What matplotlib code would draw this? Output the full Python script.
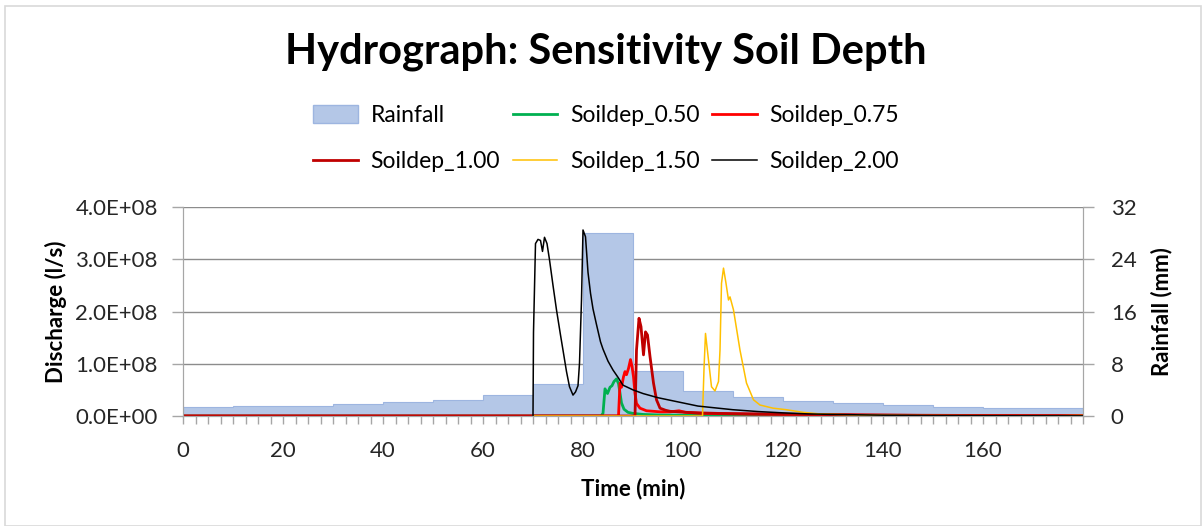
import matplotlib
matplotlib.use("Agg")
import matplotlib.pyplot as plt
import numpy as np
from matplotlib.patches import Patch
from matplotlib.ticker import FuncFormatter, MultipleLocator, FixedLocator

plt.rcParams["font.family"] = ["Lato", "DejaVu Sans"]

# rainfall per 10-minute block (mm), edges 0..180 min
rain_edges = [0, 10, 20, 30, 40, 50, 60, 70, 80, 90, 100, 110, 120, 130, 140, 150, 160, 170, 180]
rain_mm = [1.35, 1.6, 1.6, 1.9, 2.15, 2.45, 3.2, 4.85, 28.0, 6.95,
           3.9, 2.85, 2.3, 1.95, 1.7, 1.45, 1.25, 1.25]

# discharge series, values in 1e8 l/s
t_050 = [0, 83.6, 84.0, 84.4, 84.9, 85.4, 85.8, 86.2, 86.7, 87.1, 87.4, 87.7, 88.2, 89, 90, 92, 95, 100, 110, 120, 130, 180]
q_050 = [0, 0, 0.05, 0.52, 0.43, 0.55, 0.58, 0.66, 0.71, 0.62, 0.44, 0.25, 0.13, 0.07, 0.05, 0.03, 0.02, 0.015, 0.01, 0.005, 0, 0]

t_075 = [0, 87.1, 87.4, 87.7, 88.1, 88.4, 88.7, 89.1, 89.5, 89.8, 90.1, 90.4, 90.7, 91.4, 92.7, 95.4, 97.5, 99.2, 100.5, 104, 110, 120, 135, 150, 180]
q_075 = [0, 0, 0.63, 0.55, 0.75, 0.85, 0.79, 0.91, 1.08, 0.95, 0.75, 0.43, 0.24, 0.15, 0.10, 0.08, 0.08, 0.10, 0.07, 0.05, 0.04, 0.03, 0.02, 0.01, 0.005]

t_100 = [0, 90.4, 90.7, 91.2, 91.6, 92.1, 92.5, 92.9, 93.4, 94.1, 94.7, 95.4, 96.5, 97.4, 99, 100.7, 103, 107, 114, 120, 127, 135, 145, 160, 180]
q_100 = [0, 0, 1.26, 1.87, 1.71, 1.17, 1.61, 1.55, 1.14, 0.63, 0.31, 0.15, 0.11, 0.09, 0.08, 0.07, 0.06, 0.05, 0.04, 0.035, 0.03, 0.02, 0.015, 0.01, 0.005]

t_150 = [70, 103.9, 104.2, 104.5, 105.1, 105.7, 106.4, 107.1, 107.4, 107.7, 108.1, 108.6, 109.1, 109.4, 110.1, 111.4, 112.7, 114.1, 115.4, 116.7, 118, 120.7, 124, 127.4, 134, 145, 160, 175, 180]
q_150 = [0, 0, 0.9, 1.58, 1.07, 0.56, 0.48, 0.66, 1.26, 2.54, 2.83, 2.54, 2.22, 2.28, 2.03, 1.26, 0.63, 0.31, 0.21, 0.18, 0.15, 0.12, 0.07, 0.04, 0.02, 0.01, 0.006, 0.005, 0.01]

t_200 = [70, 70.1, 70.5, 71.0, 71.5, 71.9, 72.3, 72.8, 73.3, 74.0, 74.7, 75.5, 76.0, 76.7, 77.3, 78.0, 78.5, 79.0, 79.3, 79.7, 80.0, 80.5, 81.0, 81.5, 82.0, 82.7, 83.5, 84.0, 85, 86, 87, 88, 90, 92, 95, 100, 103, 107, 110, 115, 120, 125, 130, 140, 150, 160, 180]
q_200 = [0, 1.6, 3.30, 3.38, 3.36, 3.15, 3.42, 3.30, 2.99, 2.50, 2.03, 1.55, 1.26, 0.85, 0.56, 0.40, 0.46, 0.58, 1.01, 2.22, 3.56, 3.43, 2.75, 2.35, 2.05, 1.75, 1.42, 1.28, 1.05, 0.88, 0.74, 0.59, 0.50, 0.43, 0.35, 0.25, 0.19, 0.15, 0.12, 0.085, 0.06, 0.04, 0.03, 0.015, 0.008, 0.005, 0.003]

time_labels = [0, 20, 40, 60, 80, 100, 120, 140, 160]

series = [
    ("Soildep_0.50", t_050, q_050, "#00B050", 2.0),
    ("Soildep_0.75", t_075, q_075, "#FF0000", 2.0),
    ("Soildep_1.00", t_100, q_100, "#C00000", 2.0),
    ("Soildep_1.50", t_150, q_150, "#FFC000", 1.1),
    ("Soildep_2.00", t_200, q_200, "#000000", 1.1),
]

GRID = "#8C8C8C"
AXIS = "#A6A6A6"
FS = 16

fig = plt.figure(figsize=(12.03, 5.26), dpi=100)
fig.patches.append(plt.Rectangle((5 / 1203, 0), 1196 / 1203, 520 / 526, transform=fig.transFigure,
                                 fill=False, edgecolor="#D9D9D9", linewidth=1.2))
ax = fig.add_axes([183 / 1203, 110 / 526, 900 / 1203, 209 / 526])
ax2 = ax.twinx()
ax.set_zorder(ax2.get_zorder() + 1)
ax.patch.set_visible(False)

# rainfall on the secondary axis, behind the discharge lines
ax2.stairs(rain_mm, rain_edges, fill=True, facecolor="#B4C7E7", edgecolor="#9DB5E0", linewidth=0.8)
ax2.set_ylim(0, 32)
ax2.yaxis.set_major_locator(MultipleLocator(8))
ax2.set_axisbelow(True)
ax2.grid(axis="y", color=GRID, linewidth=1.0)

handles = {}
for name, t, q, color, lw in series:
    ln, = ax.plot(t, np.array(q) * 1e8, color=color, linewidth=lw, label=name)
    handles[name] = ln

ax.set_xlim(0, 180)
ax.set_ylim(0, 4e8)
ax.yaxis.set_major_locator(MultipleLocator(1e8))
ax.yaxis.set_major_formatter(FuncFormatter(lambda v, p: f"{v:.1E}"))
ax.xaxis.set_major_locator(FixedLocator(time_labels))
ax.xaxis.set_minor_locator(MultipleLocator(2.5))

for a in (ax, ax2):
    for s in a.spines.values():
        s.set_color(AXIS)
    a.spines["top"].set_visible(False)
ax.tick_params(axis="both", which="both", direction="out", color=AXIS, labelsize=FS, labelcolor="#262626")
ax.tick_params(axis="x", which="both", length=6, width=1, pad=12)
ax.tick_params(axis="y", length=8, width=1, pad=10)
ax2.tick_params(axis="y", direction="out", length=8, width=1, pad=12, color=AXIS, labelsize=FS, labelcolor="#262626")

ax.set_xlabel("Time (min)", fontsize=FS, fontweight="bold", labelpad=12)
ax.set_ylabel("Discharge (l/s)", fontsize=FS, fontweight="bold", labelpad=6)
ax2.set_ylabel("Rainfall (mm)", fontsize=FS, fontweight="bold", labelpad=10)

fig.text(0.504, 0.902, "Hydrograph: Sensitivity Soil Depth", ha="center", va="center",
         fontsize=30, fontweight="bold")

rain_patch = Patch(facecolor="#B4C7E7", edgecolor="#9DB5E0", label="Rainfall")
order = [rain_patch, handles["Soildep_1.00"], handles["Soildep_0.50"],
         handles["Soildep_1.50"], handles["Soildep_0.75"], handles["Soildep_2.00"]]
fig.legend(handles=order, labels=[h.get_label() for h in order], ncol=3,
           loc="upper center", bbox_to_anchor=(0.504, 0.822), frameon=False,
           fontsize=16.5, handlelength=1.95, handleheight=0.85, handletextpad=0.55,
           columnspacing=0.55, labelspacing=1.1, borderpad=0)

fig.savefig("out.png", dpi=100)
